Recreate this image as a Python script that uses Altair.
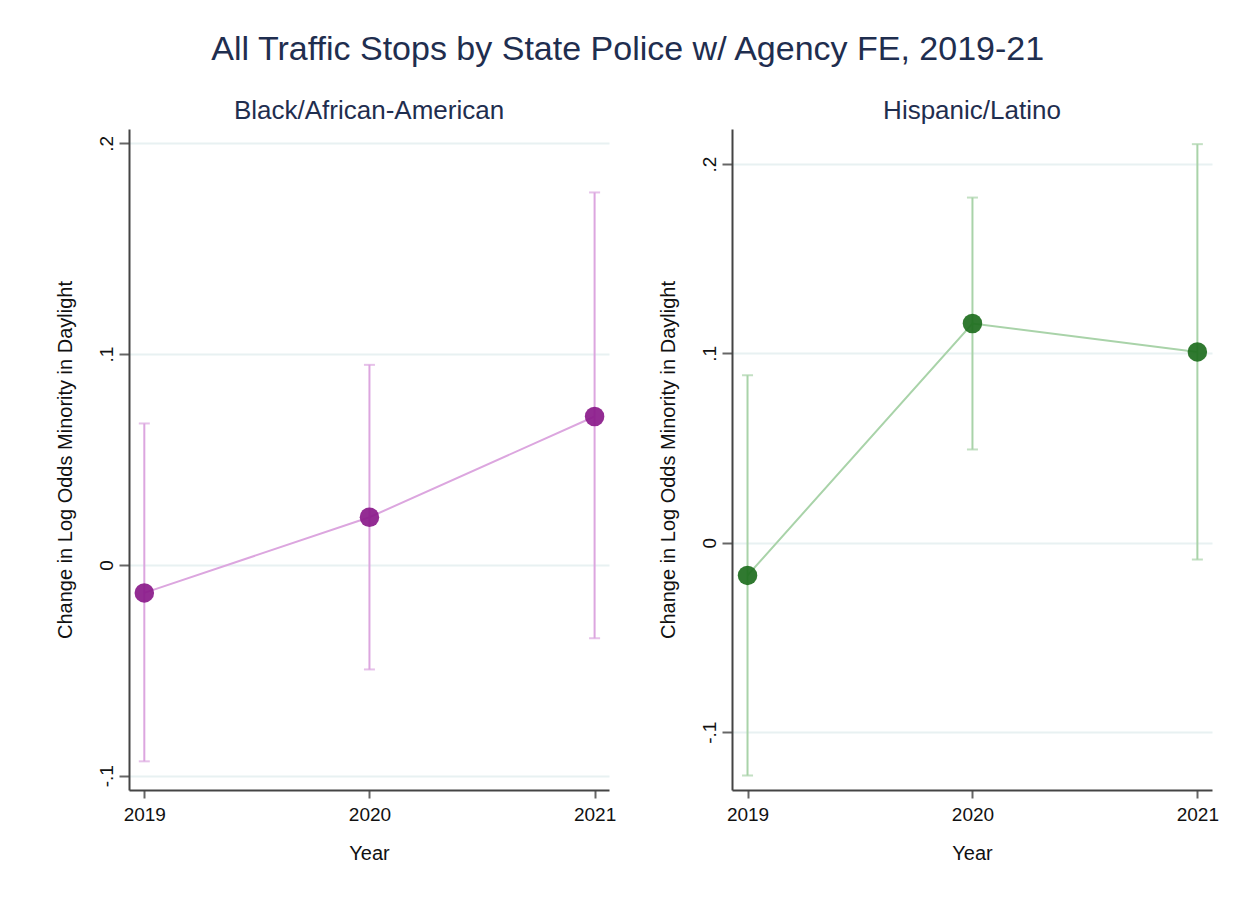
import altair as alt
import pandas as pd

# ---- data ----
years = [2019, 2020, 2021]

black_est = [-0.0133, 0.0226, 0.0704]
black_lo = [-0.0932, -0.0496, -0.0348]
black_hi = [0.0671, 0.0949, 0.1767]

hisp_est = [-0.0172, 0.1158, 0.1008]
hisp_lo = [-0.1228, 0.0493, -0.0088]
hisp_hi = [0.0885, 0.1823, 0.2105]

y_tick_values = [-0.1, 0.0, 0.1, 0.2]
y_tick_labels = ["-.1", "0", ".1", ".2"]
x_tick_values = [2019, 2020, 2021]

main_title = "All Traffic Stops by State Police w/ Agency FE, 2019-21"
panel_titles = ["Black/African-American", "Hispanic/Latino"]
y_title = "Change in Log Odds Minority in Daylight"
x_title = "Year"

FONT = "Liberation Sans"
TITLE_COLOR = "#1f2e4f"

label_expr = " : ".join(
    [f"abs(datum.value - ({v})) < 1e-9 ? '{l}'" for v, l in zip(y_tick_values, y_tick_labels)]
) + " : ''"


def panel(est, lo, hi, title, ydom, xdom, dot_color, line_color):
    df = pd.DataFrame({"year": years, "est": est, "lo": lo, "hi": hi})
    xenc = alt.X(
        "year:Q",
        scale=alt.Scale(domain=xdom, nice=False, zero=False),
        axis=alt.Axis(values=x_tick_values, format="d", title=x_title, grid=False,
                      tickSize=8, labelPadding=7, titlePadding=19),
    )
    yaxis = alt.Axis(values=y_tick_values, labelExpr=label_expr, title=y_title,
                     grid=True, tickSize=10, labelAngle=270, labelAlign="center",
                     labelBaseline="bottom", labelPadding=3, titlePadding=22)
    yscale = alt.Scale(domain=ydom, nice=False, zero=False)
    base = alt.Chart(df)
    rules = base.mark_rule(color=line_color, strokeWidth=2).encode(
        x=xenc, y=alt.Y("lo:Q", scale=yscale, axis=yaxis), y2="hi:Q")
    cap_lo = base.mark_tick(color=line_color, orient="horizontal", size=11, thickness=2).encode(
        x=xenc, y=alt.Y("lo:Q", scale=yscale, axis=yaxis))
    cap_hi = base.mark_tick(color=line_color, orient="horizontal", size=11, thickness=2).encode(
        x=xenc, y=alt.Y("hi:Q", scale=yscale, axis=yaxis))
    line = base.mark_line(color=line_color, strokeWidth=2).encode(
        x=xenc, y=alt.Y("est:Q", scale=yscale, axis=yaxis))
    pts = base.mark_point(filled=True, color=dot_color, size=380, opacity=0.92).encode(
        x=xenc, y=alt.Y("est:Q", scale=yscale, axis=yaxis))
    return alt.layer(rules, cap_lo, cap_hi, line, pts).properties(
        width=480, height=661,
        title=alt.TitleParams(title, fontSize=26, font=FONT, fontWeight="normal",
                              color=TITLE_COLOR, offset=5, anchor="middle"),
    )


left = panel(black_est, black_lo, black_hi, panel_titles[0],
             [-0.1068, 0.2068], [2018.932, 2021.064], "#8a1a8a", "#dca6df")
right = panel(hisp_est, hisp_lo, hisp_hi, panel_titles[1],
              [-0.1305, 0.2185], [2018.931, 2021.065], "#1e6e1e", "#a9d3a9")

chart = alt.hconcat(left, right, spacing=42).properties(
    title=alt.TitleParams(main_title, fontSize=34, font=FONT, fontWeight="normal",
                          color=TITLE_COLOR, anchor="middle", offset=31, dx=-9),
    padding={"left": 47, "top": 25, "right": 10, "bottom": 10},
    background="white",
).configure_view(stroke=None).configure_axis(
    labelFont=FONT, titleFont=FONT, labelFontSize=19, titleFontSize=20,
    labelColor="#111111", titleColor="#111111", titleFontWeight="normal",
    domainColor="#444444", domainWidth=2, tickColor="#666666", tickWidth=2,
    gridColor="#e8f1f2", gridWidth=2,
)

chart.save("out.html", embed_options={"renderer": "svg", "actions": False})
